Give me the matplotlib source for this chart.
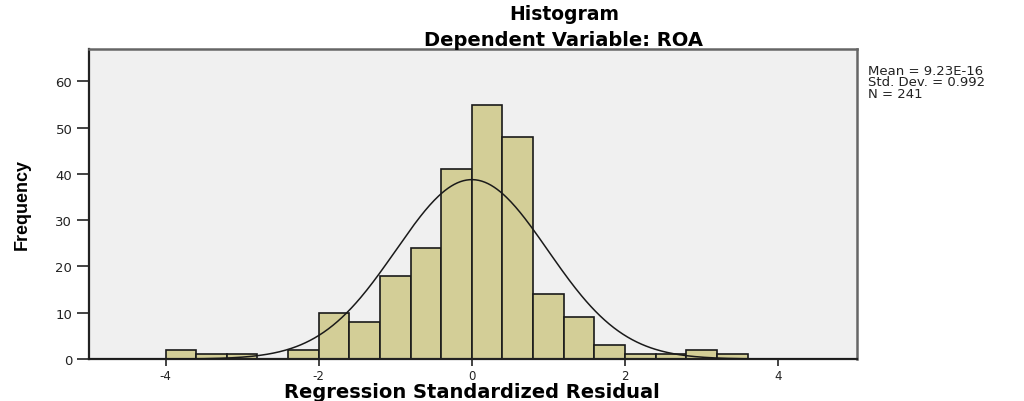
import numpy as np
import matplotlib.pyplot as plt

# histogram bins (width 0.4) and counts
bin_edges = [-4.0, -3.6, -3.2, -2.8, -2.4, -2.0, -1.6, -1.2, -0.8, -0.4, 0.0,
             0.4, 0.8, 1.2, 1.6, 2.0, 2.4, 2.8, 3.2, 3.6]
counts = [2, 1, 1, 0, 2, 10, 8, 18, 24, 41, 55, 48, 14, 9, 3, 1, 1, 2, 1]

mean = 9.23e-16
std = 0.992
n = 241

fig = plt.figure(figsize=(10.24, 4.02), dpi=100)
ax = fig.add_axes([89/1024, 42/402, (857-89)/1024, (360-50)/402])
ax.set_facecolor("#f0f0f0")

lefts = np.array(bin_edges[:-1])
widths = np.diff(bin_edges)
ax.bar(lefts, counts, width=widths, align="edge", color="#d3ce97",
       edgecolor="#1a1a1a", linewidth=1.2, zorder=2)

# normal curve scaled to counts
xs = np.linspace(-5, 5, 500)
bw = 0.4
ys = n * bw / (std * np.sqrt(2 * np.pi)) * np.exp(-0.5 * ((xs - mean) / std) ** 2)
ax.plot(xs, ys, color="#1a1a1a", linewidth=1.1, zorder=3)

ax.set_xlim(-5, 5.03)
ax.set_ylim(0, 67)
ax.set_xticks([-4, -2, 0, 2, 4])
ax.set_xticklabels(["-4", "-2", "0", "2", "4"])
ax.set_yticks([0, 10, 20, 30, 40, 50, 60])
ax.tick_params(axis="x", direction="out", length=5, width=1.2, labelsize=8.5,
               colors="#222222", pad=2)
ax.tick_params(axis="y", direction="out", length=9, width=1.2, labelsize=9.5,
               colors="#222222", pad=3)
for lab in ax.get_xticklabels() + ax.get_yticklabels():
    lab.set_family("DejaVu Sans")

for s in ["left", "bottom"]:
    ax.spines[s].set_color("#222222")
    ax.spines[s].set_linewidth(1.6)
for s in ["top", "right"]:
    ax.spines[s].set_color("#666666")
    ax.spines[s].set_linewidth(1.8)

fig.text(472/1024, 1 - 393/402, "Regression Standardized Residual",
         ha="center", va="center", family="DejaVu Sans",
         fontweight="bold", fontsize=14)
fig.text(22/1024, 1 - 205/402, "Frequency", rotation=90, ha="center",
         va="center", family=["Liberation Sans Narrow", "Liberation Sans"],
         fontweight="bold", fontsize=13)

fig.text(564/1024, 1 - 15/402, "Histogram", ha="center", va="center",
         family="DejaVu Sans", fontweight="bold", fontsize=13.5)
fig.text(564/1024, 1 - 40/402, "Dependent Variable: ROA", ha="center",
         va="center", family="DejaVu Sans", fontweight="bold", fontsize=14)

fig.text(868/1024, 1 - 65/402,
         f"Mean = 9.23E-16\nStd. Dev. = {std}\nN = {n}",
         ha="left", va="top", family="DejaVu Sans", fontsize=9.5,
         linespacing=0.85, color="#222222")

fig.savefig("out.png", dpi=100, facecolor="white")
